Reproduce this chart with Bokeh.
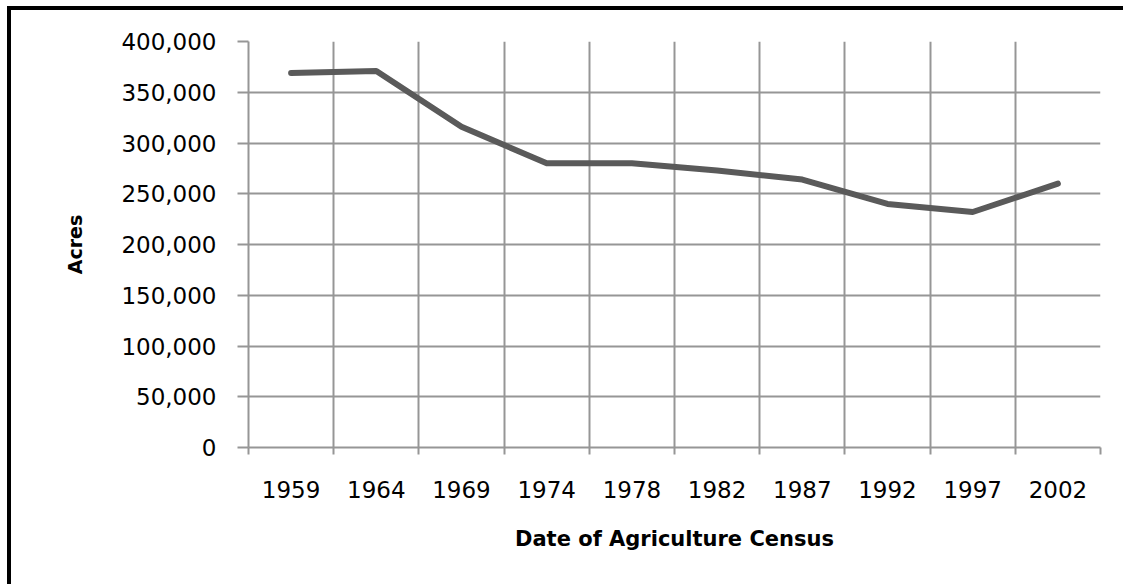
from bokeh.plotting import figure
from bokeh.models import Range1d, FixedTicker, NumeralTickFormatter, ColumnDataSource
from bokeh.embed import file_html
from bokeh.resources import INLINE

years = ["1959", "1964", "1969", "1974", "1978", "1982", "1987", "1992", "1997", "2002"]
acres = [369000, 371000, 316000, 280000, 280000, 273000, 264000, 240000, 232000, 260000]
y_ticks = [0, 50000, 100000, 150000, 200000, 250000, 300000, 350000, 400000]

xs = list(range(len(years)))
centers = [float(i) for i in xs]
bounds = [i - 0.5 for i in range(len(years) + 1)]

GRID = "#969696"
FONT = "DejaVu Sans"

p = figure(width=1116, height=578, output_backend="svg", toolbar_location=None,
           x_range=Range1d(-0.5, len(years) - 0.5), y_range=Range1d(0, 400000),
           min_border_left=237, min_border_top=31, min_border_right=27, min_border_bottom=141)
p.styles = {"border-left": "4px solid black", "border-top": "4px solid black",
            "box-sizing": "border-box", "margin-left": "7px", "margin-top": "6px"}
p.outline_line_color = None
p.background_fill_color = "white"
p.border_fill_color = "white"

src = ColumnDataSource(dict(x=xs, y=acres))
p.line("x", "y", source=src, line_color="#5a5a5a", line_width=6, line_cap="round", line_join="round")

# x axis
xa = p.xaxis[0]
xa.ticker = FixedTicker(ticks=centers, minor_ticks=bounds)
xa.major_label_overrides = {c: y for c, y in zip(centers, years)}
xa.major_tick_out = 0
xa.major_tick_in = 0
xa.minor_tick_out = 7
xa.minor_tick_in = 0
xa.minor_tick_line_color = GRID
xa.minor_tick_line_width = 2
xa.axis_line_color = GRID
xa.axis_line_width = 2
xa.major_label_text_font = FONT
xa.major_label_text_font_size = "23px"
xa.major_label_text_color = "black"
xa.major_label_standoff = 26
xa.axis_label = "Date of Agriculture Census"
xa.axis_label_text_font = FONT
xa.axis_label_text_font_style = "bold"
xa.axis_label_text_font_size = "21px"
xa.axis_label_text_color = "black"
xa.axis_label_standoff = 26

# y axis
ya = p.yaxis[0]
ya.ticker = FixedTicker(ticks=y_ticks)
ya.formatter = NumeralTickFormatter(format="0,0")
ya.major_tick_out = 11
ya.major_tick_in = 0
ya.major_tick_line_color = GRID
ya.major_tick_line_width = 2
ya.minor_tick_line_color = None
ya.axis_line_color = GRID
ya.axis_line_width = 2
ya.major_label_text_font = FONT
ya.major_label_text_font_size = "23px"
ya.major_label_text_color = "black"
ya.major_label_standoff = 21
ya.axis_label = "Acres"
ya.axis_label_text_font = FONT
ya.axis_label_text_font_style = "bold"
ya.axis_label_text_font_size = "19px"
ya.axis_label_text_color = "black"
ya.axis_label_standoff = 32

p.xgrid.ticker = FixedTicker(ticks=bounds)
p.xgrid.grid_line_color = GRID
p.xgrid.grid_line_width = 2
p.ygrid.ticker = FixedTicker(ticks=y_ticks)
p.ygrid.grid_line_color = GRID
p.ygrid.grid_line_width = 2

open("out.html", "w").write(file_html(p, INLINE))
